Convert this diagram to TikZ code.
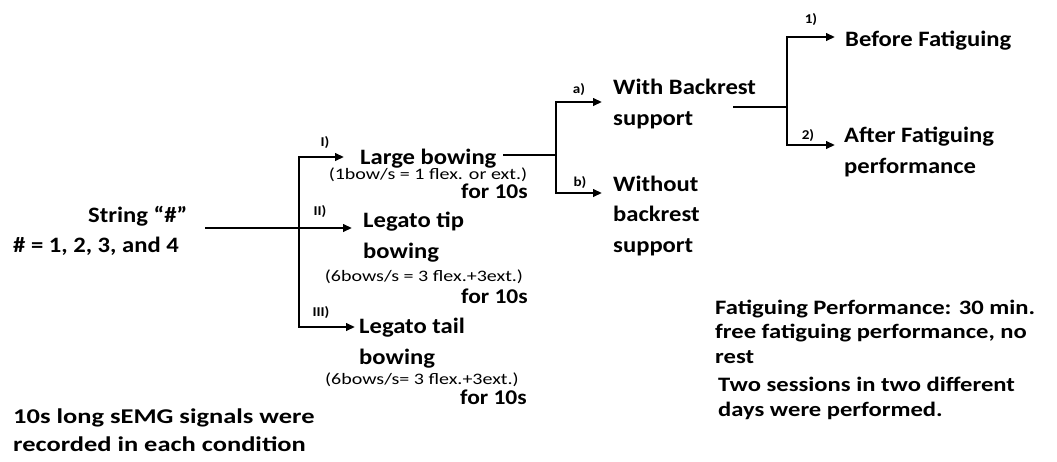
\documentclass[tikz,border=0pt]{standalone}
\usepackage{fontspec}
\setmainfont{Carlito}[FakeStretch=1.12]
\newfontfamily\notefont{Carlito}[FakeStretch=1.26]
\newfontfamily\rnotefont{Carlito}[FakeStretch=1.2]
\newfontfamily\smallfont{Carlito}[FakeStretch=1.25]
\usetikzlibrary{arrows.meta}
\tikzset{
  ln/.style={line width=2.2pt},
  arr/.style={line width=2.2pt, -{Triangle[length=9pt,width=7.5pt]}},
  big/.style={font=\bfseries\fontsize{22}{30.5}\selectfont, inner sep=0pt, anchor=base west, align=left},
  mid/.style={font=\bfseries\fontsize{21}{22}\selectfont, inner sep=0pt, anchor=base east},
  tiny/.style={font=\smallfont\fontsize{16}{18}\selectfont, inner sep=0pt, anchor=base},
  lab/.style={font=\bfseries\fontsize{13.5}{15}\selectfont, inner sep=0pt},
  note/.style={font=\notefont\bfseries\fontsize{21}{28}\selectfont, inner sep=0pt, anchor=base west, align=left},
  rnote/.style={font=\rnotefont\bfseries\fontsize{20.5}{24.5}\selectfont, inner sep=0pt, anchor=base west, align=left},
}
\begin{document}
\begin{tikzpicture}[x=1pt,y=-1pt]
\useasboundingbox (0,0) rectangle (1057,461);
% texts (multi-line nodes: base = last line)
\node[big] (str1) at (88,222) {String “\#”};
\node[big] (str2) at (13,252) {\# = 1, 2, 3, and 4};
\node[big] (large) at (360,164) {Large bowing};
\node[tiny] (sm1) at (428,179) {(1bow/s = 1 flex. or ext.)};
\node[mid] (for1) at (528,198) {for 10s};
\node[big] (tip) at (363,258) {Legato tip\\bowing};
\node[tiny] (sm2) at (424,281) {(6bows/s = 3 flex.+3ext.)};
\node[mid] (for2) at (528,303) {for 10s};
\node[big] (tail) at (359,364) {Legato tail\\bowing};
\node[tiny] (sm3) at (422,384) {(6bows/s= 3 flex.+3ext.)};
\node[mid] (for3) at (527,404) {for 10s};
\node[big] (with) at (613,125) {With Backrest\\support};
\node[big] (without) at (613,252) {Without\\backrest\\support};
\node[big] (before) at (845,46) {Before Fatiguing};
\node[big] (after) at (844,173) {After Fatiguing\\performance};
\node[note] (note1) at (13,451) {10s long sEMG signals were\\recorded in each condition};
\node[rnote] (note2) at (715,363) {Fatiguing Performance: 30 min.\\free fatiguing performance, no\\rest};
\node[rnote, font=\rnotefont\bfseries\fontsize{20.5}{25}\selectfont] (note3) at (718,416) {Two sessions in two different\\days were performed.};
% labels
\node[lab] (lI) at (325,143) {I)};
\node[lab] (lII) at (320,212) {II)};
\node[lab] (lIII) at (321,313) {III)};
\node[lab] (la) at (579,90) {a)};
\node[lab] (lb) at (580,183) {b)};
\node[lab] (l1) at (811,20) {1)};
\node[lab] (l2) at (808,136) {2)};
% coordinates
\coordinate (s0) at (205,228);
\coordinate (j1) at (299,228);
\coordinate (tI) at (344,157);
\coordinate (tII) at (352,228);
\coordinate (tIII) at (355,327);
\coordinate (l0) at (503,155);
\coordinate (j2) at (556,155);
\coordinate (ta) at (602,102);
\coordinate (tb) at (602,193);
\coordinate (w0) at (733,107);
\coordinate (j3) at (787,107);
\coordinate (t1) at (835,37);
\coordinate (t2) at (835,145);
% connectors
\draw[ln] (s0) -- (j1);
\draw[arr] (j1) |- (tI);
\draw[arr] (j1) -- (tII);
\draw[arr] (j1) |- (tIII);
\draw[ln] (l0) -- (j2);
\draw[arr] (j2) |- (ta);
\draw[arr] (j2) |- (tb);
\draw[ln] (w0) -- (j3);
\draw[arr] (j3) |- (t1);
\draw[arr] (j3) |- (t2);
\end{tikzpicture}
\end{document}
